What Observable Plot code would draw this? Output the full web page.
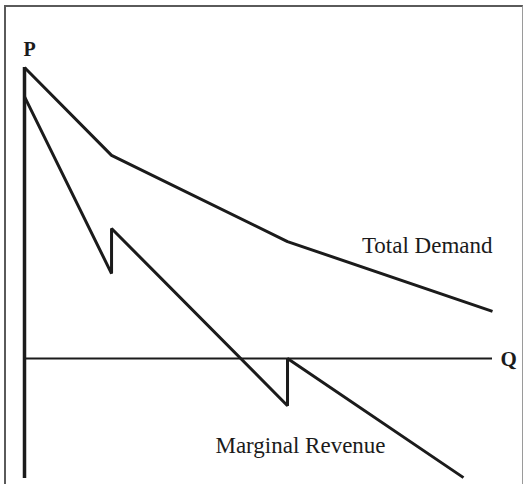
<!DOCTYPE html>
<html>
<head>
<meta charset="utf-8">
<script src="https://cdn.jsdelivr.net/npm/d3@7"></script>
<script src="https://cdn.jsdelivr.net/npm/@observablehq/plot@0.6"></script>
<style>
  html, body { margin: 0; padding: 0; background: #fff; }
  #wrap { position: relative; width: 523px; height: 484px; overflow: hidden; }
  #frame { position: absolute; left: 4px; top: 5px; width: 516px; height: 490px;
           border-top: 2px solid #5a5a5a; border-left: 2px solid #5a5a5a;
           border-right: 1px solid #9a9a9a; pointer-events: none; }
  svg { display: block; }
</style>
</head>
<body>
<div id="wrap"><div id="frame"></div></div>
<script>
// Total demand curve (kinked)
const demandQ = [0, 18.6, 56.2, 100];
const demandP = [100, 69.8, 40.2, 16.2];
// Marginal revenue (with discontinuities at the kinks)
const mrQ = [0, 18.6, 18.6, 56.2, 56.2, 93.8];
const mrP = [90.0, 29.2, 44.7, -16.2, 0, -40.9];
// Labels
const labelText = ["Total Demand", "Marginal Revenue"];
const labelQ = [100, 40.8];
const labelP = [36.4, -32.6];
const axisNames = ["P", "Q"];

const demand = demandQ.map((q, i) => ({q, p: demandP[i]}));
const mr = mrQ.map((q, i) => ({q, p: mrP[i]}));

const ink = "#1b1b1b";
const serif = "'Liberation Serif', 'Times New Roman', serif";

const chart = Plot.plot({
  width: 523,
  height: 484,
  marginLeft: 24,
  marginRight: 31,
  marginTop: 67,
  marginBottom: 6,
  x: {domain: [0, 100], axis: null},
  y: {domain: [-41.2, 100], axis: null},
  style: {background: "transparent", fontFamily: serif},
  marks: [
    Plot.ruleX([0], {y1: -41.2, y2: 100, stroke: ink, strokeWidth: 3.5}),
    Plot.ruleY([0], {x1: 0, x2: 100, stroke: ink, strokeWidth: 2}),
    Plot.line(demand, {x: "q", y: "p", stroke: ink, strokeWidth: 3, strokeLinejoin: "miter", strokeLinecap: "butt"}),
    Plot.line(mr, {x: "q", y: "p", stroke: ink, strokeWidth: 3, strokeLinejoin: "miter", strokeLinecap: "butt"}),
    Plot.text([labelText[0]], {x: labelQ[0], y: labelP[0], text: d => d, textAnchor: "end", lineAnchor: "bottom", fontSize: 23, fill: ink}),
    Plot.text([labelText[1]], {x: labelQ[1], y: labelP[1], text: d => d, textAnchor: "start", lineAnchor: "bottom", fontSize: 23, fill: ink}),
    Plot.text([axisNames[0]], {x: 0, y: 104.1, dx: -1, text: d => d, textAnchor: "start", lineAnchor: "bottom", fontSize: 20, fontWeight: "bold", fill: ink}),
    Plot.text([axisNames[1]], {x: 100, y: 0, dx: 8, dy: 1, text: d => d, textAnchor: "start", lineAnchor: "middle", fontSize: 21, fontWeight: "bold", fill: ink})
  ]
});
document.getElementById("wrap").insertBefore(chart, document.getElementById("frame"));
</script>
</body>
</html>
